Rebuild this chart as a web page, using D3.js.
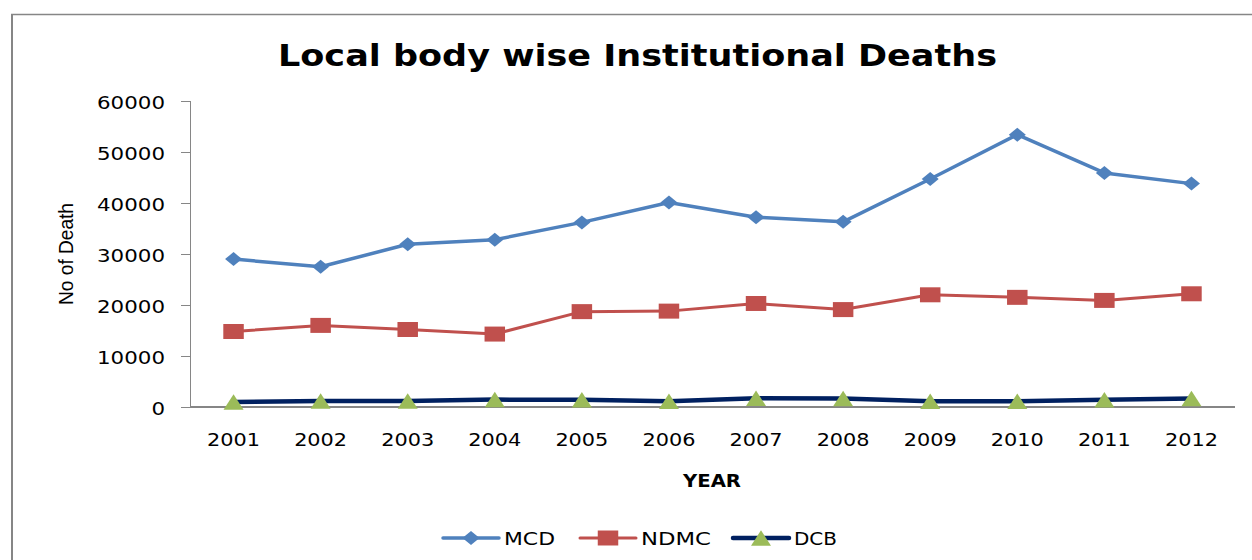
<!DOCTYPE html>
<html><head><meta charset="utf-8">
<script src="https://cdn.jsdelivr.net/npm/d3@7"></script>
<style>body{margin:0;background:#fff}svg{display:block}</style>
</head><body>
<svg id="c" width="1252" height="560"></svg>
<script>
const years = ["2001","2002","2003","2004","2005","2006","2007","2008","2009","2010","2011","2012"];
const mcd  = [29000,27500,31900,32800,36200,40100,37200,36300,44700,53400,45900,43800];
const ndmc = [14800,16000,15200,14300,18700,18800,20300,19100,22000,21500,20900,22200];
const dcb  = [1000,1200,1200,1450,1400,1150,1700,1650,1150,1150,1400,1650];
const yTicks = [0,10000,20000,30000,40000,50000,60000];
const seriesNames = ["MCD","NDMC","DCB"];

(function(){
const svg = d3.select("#c");
const W = 1252, H = 560;
const pLeft = 190, pRight = 1235, pTop = 101, pBottom = 407;

// frame
svg.append("line").attr("x1",12).attr("x2",12).attr("y1",14).attr("y2",H).attr("stroke","#868686").attr("stroke-width",2);
svg.append("line").attr("x1",11).attr("x2",W).attr("y1",14.5).attr("y2",14.5).attr("stroke","#868686").attr("stroke-width",1.5);

const x = d3.scaleBand().domain(years).range([pLeft,pRight]);
const cx = d => x(d) + x.bandwidth()/2;
const y = d3.scaleLinear().domain([0,60000]).range([pBottom,pTop]);

// title
svg.append("text").attr("x",637.5).attr("y",66).attr("text-anchor","middle")
  .attr("font-family","DejaVu Sans").attr("font-weight","bold").attr("font-size",31)
  .attr("textLength",719).attr("lengthAdjust","spacingAndGlyphs")
  .text("Local body wise Institutional Deaths");

// y axis
const yAxis = svg.append("g").attr("transform",`translate(${pLeft},0)`)
  .call(d3.axisLeft(y).tickValues(yTicks).tickSize(9).tickPadding(16).tickFormat(d3.format("d")));
yAxis.select(".domain").remove();
yAxis.selectAll(".tick line").attr("stroke","#868686").attr("stroke-width",1);
yAxis.selectAll(".tick text").attr("font-family","DejaVu Sans").attr("font-size",17).attr("fill","#000")
  .attr("dy",null).attr("y",7.3)
  .attr("textLength",function(){return this.textContent.length*13.6;}).attr("lengthAdjust","spacingAndGlyphs");
svg.append("line").attr("x1",pLeft+0.5).attr("x2",pLeft+0.5).attr("y1",pTop).attr("y2",pBottom).attr("stroke","#868686").attr("stroke-width",1);

// x axis
const xAxis = svg.append("g").attr("transform",`translate(0,${pBottom})`)
  .call(d3.axisBottom(x).tickSize(0).tickPadding(0));
xAxis.select(".domain").remove();
xAxis.selectAll(".tick text").attr("font-family","DejaVu Sans").attr("font-size",17).attr("fill","#000")
  .attr("dy",null).attr("y",38.5)
  .attr("textLength",53).attr("lengthAdjust","spacingAndGlyphs");
svg.append("line").attr("x1",pLeft).attr("x2",pRight).attr("y1",pBottom).attr("y2",pBottom).attr("stroke","#868686").attr("stroke-width",2);

// axis titles
svg.append("text").attr("x",712).attr("y",486.5).attr("text-anchor","middle")
  .attr("font-family","DejaVu Sans").attr("font-weight","bold").attr("font-size",18)
  .attr("textLength",58).attr("lengthAdjust","spacingAndGlyphs").text("YEAR");
svg.append("text").attr("transform","translate(73,254) scale(1.25,1) rotate(-90)")
  .attr("text-anchor","middle").attr("font-family","Liberation Sans").attr("font-size",16.5)
  .attr("textLength",102).attr("lengthAdjust","spacingAndGlyphs").text("No of Death");

// marker shapes
function diamond(w,h){return `M0,${-h/2}L${w/2},0L0,${h/2}L${-w/2},0Z`;}
function square(w,h){return `M${-w/2},${-h/2}H${w/2}V${h/2}H${-w/2}Z`;}
function triangle(w,h){return `M0,${-h/2}L${w/2},${h/2}L${-w/2},${h/2}Z`;}

const series = [
  {name:seriesNames[0], vals:mcd,  line:"#4F81BD", fill:"#4F81BD", lw:3.5, shape:diamond(17,14)},
  {name:seriesNames[1], vals:ndmc, line:"#C0504D", fill:"#C0504D", lw:3,   shape:square(20.5,15)},
  {name:seriesNames[2], vals:dcb,  line:"#002060", fill:"#9BBB59", lw:4.5, shape:triangle(20,15.5)}
];

const lineGen = d3.line().x((d,i)=>cx(years[i])).y(d=>y(d));
series.forEach(s=>{
  svg.append("path").attr("d",lineGen(s.vals)).attr("fill","none")
    .attr("stroke",s.line).attr("stroke-width",s.lw).attr("stroke-linejoin","round");
  svg.append("g").selectAll("path").data(s.vals).join("path")
    .attr("d",s.shape).attr("fill",s.fill)
    .attr("transform",(d,i)=>`translate(${cx(years[i])},${y(d)})`);
});

// legend
const legX = [443,580,733];
const legY = 538;
series.forEach((s,i)=>{
  const g = svg.append("g").attr("transform",`translate(${legX[i]},${legY})`);
  g.append("line").attr("x1",0).attr("x2",56).attr("y1",0).attr("y2",0)
    .attr("stroke",s.line).attr("stroke-width",s.lw).attr("stroke-linecap","round");
  g.append("path").attr("d",s.shape).attr("fill",s.fill).attr("transform","translate(28,0)");
  g.append("text").attr("x",61).attr("y",6.5).attr("font-family","DejaVu Sans").attr("font-size",17)
    .attr("textLength",[51,70,43][i]).attr("lengthAdjust","spacingAndGlyphs").text(s.name);
});
})();
</script>
</body></html>
